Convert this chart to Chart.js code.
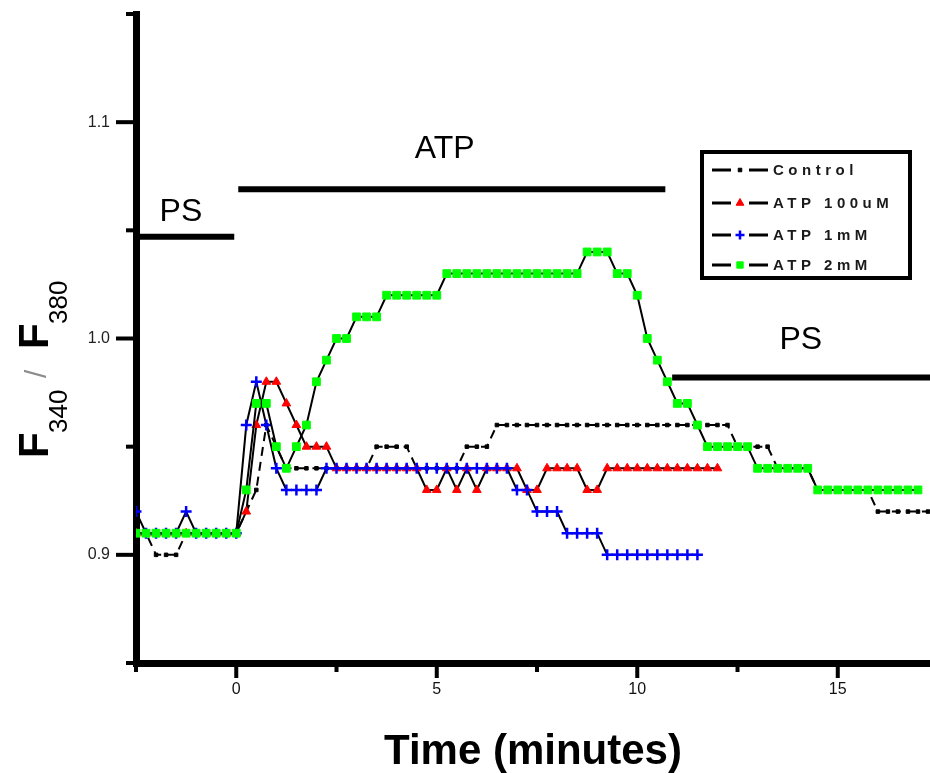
<!DOCTYPE html>
<html>
<head>
<meta charset="utf-8">
<title>F340/F380 ratio over time</title>
<script src="https://cdn.jsdelivr.net/npm/chart.js@4.4.1/dist/chart.umd.min.js"></script>
<style>
  html, body { margin: 0; padding: 0; background: #fff; }
  #wrap { width: 930px; height: 773px; position: relative; }
</style>
</head>
<body>
<div id="wrap"><canvas id="ratioChart"></canvas></div>
<script>
// sample times (minutes), one reading every 15 s
const time = [
  -2.5, -2.25, -2, -1.75, -1.5, -1.25, -1, -0.75, -0.5, -0.25,
  0, 0.25, 0.5, 0.75, 1, 1.25, 1.5, 1.75, 2, 2.25,
  2.5, 2.75, 3, 3.25, 3.5, 3.75, 4, 4.25, 4.5, 4.75,
  5, 5.25, 5.5, 5.75, 6, 6.25, 6.5, 6.75, 7, 7.25,
  7.5, 7.75, 8, 8.25, 8.5, 8.75, 9, 9.25, 9.5, 9.75,
  10, 10.25, 10.5, 10.75, 11, 11.25, 11.5, 11.75, 12, 12.25,
  12.5, 12.75, 13, 13.25, 13.5, 13.75, 14, 14.25, 14.5, 14.75,
  15, 15.25, 15.5, 15.75, 16, 16.25, 16.5, 16.75, 17, 17.25
];

// F340/F380 readings
const control = [
  0.91, 0.91, 0.90, 0.90, 0.90, 0.91, 0.91, 0.91, 0.91, 0.91,
  0.91, 0.92, 0.93, 0.96, 0.95, 0.94, 0.94, 0.94, 0.94, 0.94,
  0.94, 0.94, 0.94, 0.94, 0.95, 0.95, 0.95, 0.95, 0.94, 0.94,
  0.94, 0.94, 0.94, 0.95, 0.95, 0.95, 0.96, 0.96, 0.96, 0.96,
  0.96, 0.96, 0.96, 0.96, 0.96, 0.96, 0.96, 0.96, 0.96, 0.96,
  0.96, 0.96, 0.96, 0.96, 0.96, 0.96, 0.96, 0.96, 0.96, 0.96,
  0.95, 0.95, 0.95, 0.95, 0.94, 0.94, 0.94, 0.94, 0.93, 0.93,
  0.93, 0.93, 0.93, 0.93, 0.92, 0.92, 0.92, 0.92, 0.92, 0.92
];
const atp100uM = [
  0.91, 0.91, 0.91, 0.91, 0.91, 0.91, 0.91, 0.91, 0.91, 0.91,
  0.91, 0.92, 0.96, 0.98, 0.98, 0.97, 0.96, 0.95, 0.95, 0.95,
  0.94, 0.94, 0.94, 0.94, 0.94, 0.94, 0.94, 0.94, 0.94, 0.93,
  0.93, 0.94, 0.93, 0.94, 0.93, 0.94, 0.94, 0.94, 0.94, 0.93,
  0.93, 0.94, 0.94, 0.94, 0.94, 0.93, 0.93, 0.94, 0.94, 0.94,
  0.94, 0.94, 0.94, 0.94, 0.94, 0.94, 0.94, 0.94, 0.94
];
const atp1mM = [
  0.92, 0.91, 0.91, 0.91, 0.91, 0.92, 0.91, 0.91, 0.91, 0.91,
  0.91, 0.96, 0.98, 0.96, 0.94, 0.93, 0.93, 0.93, 0.93, 0.94,
  0.94, 0.94, 0.94, 0.94, 0.94, 0.94, 0.94, 0.94, 0.94, 0.94,
  0.94, 0.94, 0.94, 0.94, 0.94, 0.94, 0.94, 0.94, 0.93, 0.93,
  0.92, 0.92, 0.92, 0.91, 0.91, 0.91, 0.91, 0.90, 0.90, 0.90,
  0.90, 0.90, 0.90, 0.90, 0.90, 0.90, 0.90
];
const atp2mM = [
  0.91, 0.91, 0.91, 0.91, 0.91, 0.91, 0.91, 0.91, 0.91, 0.91,
  0.91, 0.93, 0.97, 0.97, 0.95, 0.94, 0.95, 0.96, 0.98, 0.99,
  1.00, 1.00, 1.01, 1.01, 1.01, 1.02, 1.02, 1.02, 1.02, 1.02,
  1.02, 1.03, 1.03, 1.03, 1.03, 1.03, 1.03, 1.03, 1.03, 1.03,
  1.03, 1.03, 1.03, 1.03, 1.03, 1.04, 1.04, 1.04, 1.03, 1.03,
  1.02, 1.00, 0.99, 0.98, 0.97, 0.97, 0.96, 0.95, 0.95, 0.95,
  0.95, 0.95, 0.94, 0.94, 0.94, 0.94, 0.94, 0.94, 0.93, 0.93,
  0.93, 0.93, 0.93, 0.93, 0.93, 0.93, 0.93, 0.93, 0.93
];

// bath solution periods drawn as bars above the traces
const periods = [
  { label: 'PS',  from: -2.5,  to: -0.05, level: 1.047, labelX: -1.38, labelY: 1.0585 },
  { label: 'ATP', from: 0.05,  to: 10.7,  level: 1.069, labelX: 5.2,   labelY: 1.0876 },
  { label: 'PS',  from: 10.87, to: 17.3,  level: 0.982, labelX: 14.08, labelY: 0.9993 }
];

const FONT = "'Liberation Sans', Arial, sans-serif";

function toPoints(values) {
  return values.map((v, i) => ({ x: time[i], y: v }));
}

const seriesStyle = [
  { label: 'Control',   data: control,  pointStyle: 'rect',     radius: 2.5, color: '#000000', dash: [9, 6] },
  { label: 'ATP 100uM', data: atp100uM, pointStyle: 'triangle', radius: 5,   color: '#ff0000', dash: [] },
  { label: 'ATP 1mM',   data: atp1mM,   pointStyle: 'cross',    radius: 5.5, color: '#0000ff', dash: [] },
  { label: 'ATP 2mM',   data: atp2mM,   pointStyle: 'rect',     radius: 5.5, color: '#00ff00', dash: [] }
];

const datasets = seriesStyle.map((s, i) => ({
  label: s.label,
  data: toPoints(s.data),
  borderColor: '#000',
  borderWidth: 2,
  borderDash: s.dash,
  pointStyle: s.pointStyle,
  pointRadius: s.radius,
  pointBackgroundColor: s.color,
  pointBorderColor: s.color,
  pointBorderWidth: s.pointStyle === 'cross' ? 2.5 : 1,
  tension: 0,
  order: 4 - i
}));

// bars + labels for the solution periods
const periodPlugin = {
  id: 'periods',
  beforeDatasetsDraw(chart) {
    const { ctx, scales: { x, y } } = chart;
    ctx.save();
    ctx.strokeStyle = '#000';
    ctx.lineWidth = 6;
    ctx.fillStyle = '#000';
    ctx.font = `32px ${FONT}`;
    ctx.textAlign = 'center';
    ctx.textBaseline = 'middle';
    periods.forEach(p => {
      const py = y.getPixelForValue(p.level);
      ctx.beginPath();
      ctx.moveTo(x.getPixelForValue(p.from), py);
      ctx.lineTo(x.getPixelForValue(p.to), py);
      ctx.stroke();
      ctx.fillText(p.label, x.getPixelForValue(p.labelX), y.getPixelForValue(p.labelY));
    });
    ctx.restore();
  }
};

// outward tick marks, long ones at labelled values
const tickPlugin = {
  id: 'tickMarks',
  afterDraw(chart) {
    const { ctx, chartArea, scales: { x, y } } = chart;
    ctx.save();
    ctx.fillStyle = '#000';
    y.ticks.forEach(t => {
      const major = Math.abs(t.value * 10 - Math.round(t.value * 10)) < 1e-6;
      const len = major ? 17 : 7;
      const py = y.getPixelForValue(t.value);
      ctx.fillRect(chartArea.left - 3 - len, py - 2, len, 4);
    });
    x.ticks.forEach(t => {
      const major = Math.abs(t.value / 5 - Math.round(t.value / 5)) < 1e-6;
      const len = major ? 12 : 6;
      const px = x.getPixelForValue(t.value);
      ctx.fillRect(px - 2, chartArea.bottom + 3, 4, len);
    });
    ctx.restore();
  }
};

// y title with subscripts: F340 / F380
const yTitlePlugin = {
  id: 'yTitle',
  afterDraw(chart) {
    const ctx = chart.ctx;
    ctx.save();
    ctx.translate(48, 0);
    ctx.rotate(-Math.PI / 2);
    ctx.textAlign = 'left';
    ctx.textBaseline = 'alphabetic';
    ctx.fillStyle = '#000';
    ctx.font = `bold 42px ${FONT}`;
    ctx.fillText('F', -458, 0);
    ctx.font = `26px ${FONT}`;
    ctx.fillText('340', -433, 19);
    ctx.fillStyle = '#8c8c8c';
    ctx.font = `30px ${FONT}`;
    ctx.fillText('/', -378, -2);
    ctx.fillStyle = '#000';
    ctx.font = `bold 42px ${FONT}`;
    ctx.fillText('F', -349, 0);
    ctx.font = `26px ${FONT}`;
    ctx.fillText('380', -324, 19);
    ctx.restore();
  }
};

// boxed legend in the upper right
const legendPlugin = {
  id: 'boxLegend',
  afterDraw(chart) {
    const ctx = chart.ctx;
    const rows = [170, 203, 235, 265];
    ctx.save();
    ctx.fillStyle = '#fff';
    ctx.fillRect(702, 152, 208, 126);
    ctx.strokeStyle = '#000';
    ctx.lineWidth = 4;
    ctx.strokeRect(702, 152, 208, 126);
    seriesStyle.forEach((s, i) => {
      const ry = rows[i];
      ctx.strokeStyle = '#000';
      ctx.lineWidth = 3;
      ctx.setLineDash([]);
      ctx.beginPath();
      ctx.moveTo(712, ry); ctx.lineTo(731, ry);
      ctx.moveTo(749, ry); ctx.lineTo(768, ry);
      ctx.stroke();
      ctx.fillStyle = s.color;
      ctx.strokeStyle = s.color;
      ctx.lineWidth = s.pointStyle === 'cross' ? 2.5 : 1;
      Chart.helpers.drawPoint(ctx, {
        pointStyle: s.pointStyle,
        radius: s.pointStyle === 'rect' && i === 0 ? 2.5 : 4.5,
        rotation: 0,
        borderWidth: ctx.lineWidth
      }, 740, ry);
      ctx.fillStyle = '#1a1a1a';
      ctx.font = `bold 15px ${FONT}`;
      ctx.letterSpacing = '4.5px';
      ctx.textAlign = 'left';
      ctx.textBaseline = 'middle';
      ctx.fillText(s.label, 773, ry + 1);
      ctx.letterSpacing = '0px';
    });
    ctx.restore();
  }
};

new Chart(document.getElementById('ratioChart'), {
  type: 'line',
  data: { datasets },
  options: {
    responsive: true,
    maintainAspectRatio: false,
    animation: false,
    layout: { autoPadding: false, padding: { top: 14, right: 0, bottom: 0, left: 0 } },
    plugins: {
      legend: { display: false },
      tooltip: { enabled: false }
    },
    scales: {
      x: {
        type: 'linear',
        min: -2.5,
        max: 17.3,
        afterBuildTicks: s => {
          s.ticks = s.ticks.filter(t => Math.abs(t.value / 2.5 - Math.round(t.value / 2.5)) < 1e-6);
        },
        afterFit: s => {
          s.height = 110;
          s.paddingLeft = 0;
          s.paddingRight = 0;
        },
        ticks: {
          stepSize: 2.5,
          autoSkip: false,
          maxRotation: 0,
          padding: 17,
          color: '#111',
          font: { family: FONT, size: 16 },
          callback: v => (Math.abs(v / 5 - Math.round(v / 5)) < 1e-6 ? String(Math.round(v)) : '')
        },
        grid: { display: false, drawTicks: false },
        border: { display: true, color: '#000', width: 7 },
        title: {
          display: true,
          text: 'Time (minutes)',
          color: '#000',
          font: { family: FONT, size: 42, weight: 'bold', lineHeight: 1 },
          padding: { top: 0, bottom: 0 }
        }
      },
      y: {
        min: 0.85,
        max: 1.15,
        afterFit: s => {
          s.width = 136;
          s.paddingTop = 0;
          s.paddingBottom = 0;
        },
        ticks: {
          stepSize: 0.05,
          autoSkip: false,
          padding: 26,
          color: '#222',
          font: { family: FONT, size: 16 },
          callback: v => (Math.abs(v * 10 - Math.round(v * 10)) < 1e-6 ? v.toFixed(1) : '')
        },
        grid: { display: false, drawTicks: false },
        border: { display: true, color: '#000', width: 7 }
      }
    }
  },
  plugins: [periodPlugin, tickPlugin, yTitlePlugin, legendPlugin]
});
</script>
</body>
</html>
